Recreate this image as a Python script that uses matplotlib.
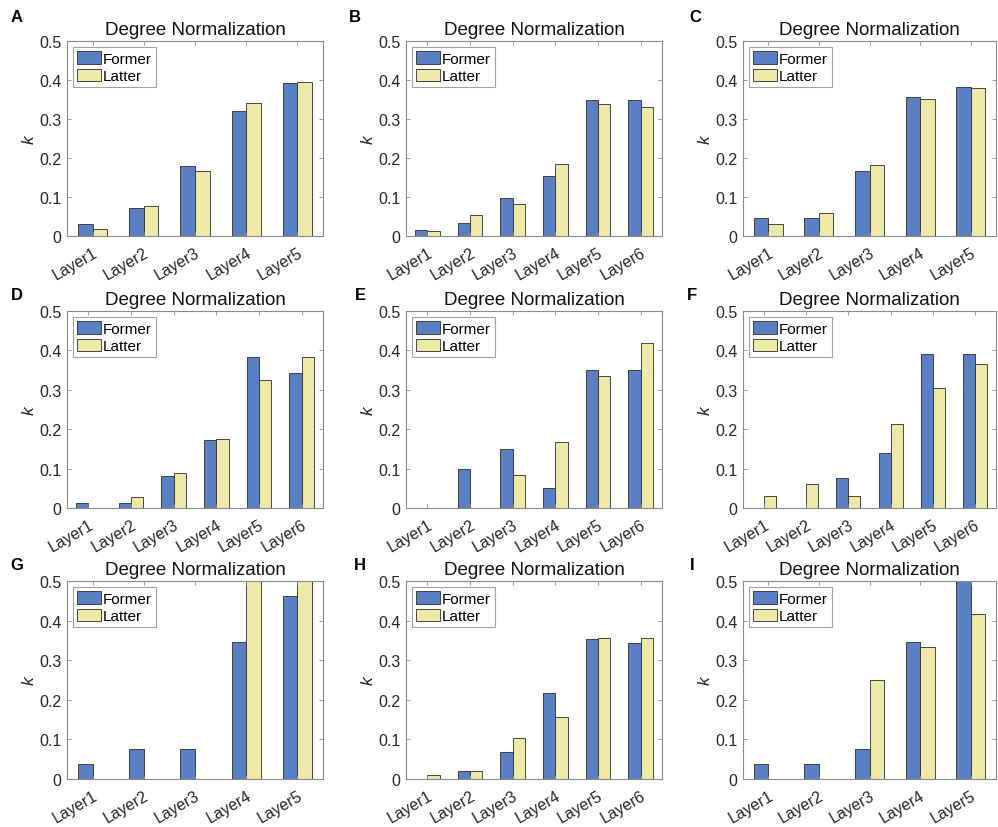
import matplotlib
matplotlib.use("Agg")
import matplotlib.pyplot as plt
import numpy as np

plt.rcParams['font.family'] = ['Liberation Sans', 'DejaVu Sans']

panel_letters = ["A", "B", "C", "D", "E", "F", "G", "H", "I"]
title_text = "Degree Normalization"
series_names = ["Former", "Latter"]

layers5 = ["Layer1", "Layer2", "Layer3", "Layer4", "Layer5"]
layers6 = ["Layer1", "Layer2", "Layer3", "Layer4", "Layer5", "Layer6"]

A_former = [0.032, 0.073, 0.180, 0.321, 0.393]
A_latter = [0.017, 0.078, 0.167, 0.342, 0.395]

B_former = [0.015, 0.033, 0.097, 0.155, 0.350, 0.350]
B_latter = [0.013, 0.053, 0.081, 0.184, 0.339, 0.331]

C_former = [0.046, 0.046, 0.167, 0.357, 0.382]
C_latter = [0.030, 0.060, 0.181, 0.351, 0.380]

D_former = [0.0135, 0.0135, 0.080, 0.172, 0.384, 0.343]
D_latter = [0.0, 0.029, 0.089, 0.176, 0.326, 0.384]

E_former = [0.0, 0.100, 0.150, 0.050, 0.350, 0.350]
E_latter = [0.0, 0.0, 0.085, 0.167, 0.334, 0.418]

F_former = [0.0, 0.0, 0.077, 0.140, 0.391, 0.391]
F_latter = [0.030, 0.062, 0.030, 0.212, 0.305, 0.366]

G_former = [0.038, 0.076, 0.076, 0.346, 0.462]
G_latter = [0.0, 0.0, 0.0, 0.5, 0.5]

H_former = [0.0, 0.019, 0.068, 0.216, 0.354, 0.343]
H_latter = [0.009, 0.020, 0.103, 0.156, 0.356, 0.356]

I_former = [0.038, 0.038, 0.077, 0.346, 0.5]
I_latter = [0.0, 0.0, 0.250, 0.333, 0.417]

panels = [
    (layers5, A_former, A_latter),
    (layers6, B_former, B_latter),
    (layers5, C_former, C_latter),
    (layers6, D_former, D_latter),
    (layers6, E_former, E_latter),
    (layers6, F_former, F_latter),
    (layers5, G_former, G_latter),
    (layers6, H_former, H_latter),
    (layers5, I_former, I_latter),
]

W, H = 998, 828
fig = plt.figure(figsize=(W / 100, H / 100), dpi=100)

col_px = [(67, 256), (406, 256), (743, 253)]
row_px = [(42, 237), (312, 509), (582, 780)]
letter_px = [[(17, 17), (355, 17), (695, 17)],
             [(17, 296), (360, 296), (692, 296)],
             [(17, 566), (360, 566), (692, 566)]]

blue = "#5A7FC3"
yellow = "#EEE8A9"
edge = "#2a2a2a"
bw = 0.2857

for idx, (cats, former, latter) in enumerate(panels):
    r, c = divmod(idx, 3)
    left, width = col_px[c]
    top, bottom = row_px[r]
    ax = fig.add_axes([left / W, (H - bottom) / H, width / W, (bottom - top) / H])
    x = np.arange(1, len(cats) + 1)
    ax.bar(x - bw / 2, former, width=bw, color=blue, edgecolor=edge, linewidth=0.6, label=series_names[0])
    ax.bar(x + bw / 2, latter, width=bw, color=yellow, edgecolor=edge, linewidth=0.6, label=series_names[1])
    ax.set_xlim(0.5, len(cats) + 0.5)
    ax.set_ylim(0, 0.5)
    ax.set_yticks([0, 0.1, 0.2, 0.3, 0.4, 0.5])
    ax.set_yticklabels(["0", "0.1", "0.2", "0.3", "0.4", "0.5"])
    ax.set_xticks(x)
    ax.set_xticklabels(cats, rotation=30, ha="right", rotation_mode="anchor")
    ax.tick_params(direction="in", top=True, right=True, length=3, width=0.6,
                   color="#8a8a8a", labelsize=11.5, labelcolor="#262626", pad=4)
    ax.tick_params(axis="x", pad=6)
    for s in ax.spines.values():
        s.set_color("#8a8a8a")
        s.set_linewidth(0.8)
    ax.set_ylabel("k", fontstyle="italic", fontsize=12.5, labelpad=2, color="#262626")
    ax.set_title(title_text, fontsize=13.5, pad=5, color="#111111")
    leg = ax.legend(loc="upper left", fontsize=11, frameon=True, fancybox=False,
                    handlelength=1.6, handleheight=0.9, handletextpad=0.1,
                    borderpad=0.25, labelspacing=0.2, borderaxespad=0.4)
    leg.get_frame().set_edgecolor("#8a8a8a")
    leg.get_frame().set_linewidth(0.8)
    lx, ly = letter_px[r][c]
    fig.text(lx / W, (H - ly) / H, panel_letters[idx], fontsize=12, fontweight="bold",
             ha="center", va="center")

fig.savefig("out.png", dpi=100)
